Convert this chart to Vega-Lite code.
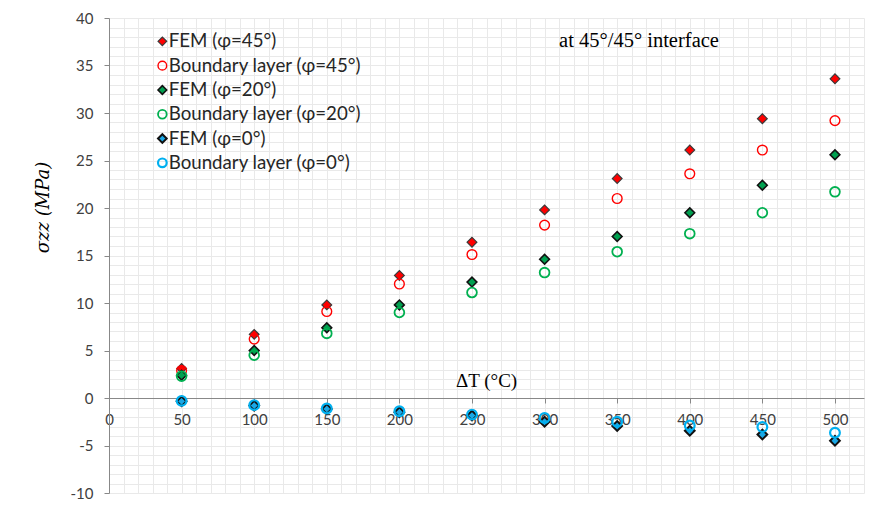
{
  "$schema": "https://vega.github.io/schema/vega-lite/v6.json",
  "width": 755,
  "height": 475,
  "autosize": {"type": "none"},
  "padding": {"left": 109, "top": 18, "right": 5, "bottom": 14},
  "background": "white",
  "config": {
    "view": {"stroke": null},
    "axis": {
      "labelFont": "Lato",
      "labelFontSize": 15,
      "labelColor": "#404040",
      "domainColor": "#888888",
      "tickColor": "#888888",
      "tickSize": 5,
      "gridColor": "#e9e9e9",
      "gridWidth": 1,
      "labelOverlap": false,
      "labelFlush": false,
      "labelBound": false
    },
    "axisY": {"labelPadding": 11},
    "axisX": {"labelPadding": 9},
    "legend": {
      "orient": "none",
      "legendX": 44,
      "legendY": 14,
      "padding": 0,
      "labelFont": "Lato",
      "labelFontSize": 18.7,
      "labelColor": "#262626",
      "labelOffset": -3,
      "labelLimit": 400,
      "rowPadding": 4.3,
      "symbolSize": 75
    }
  },
  "datasets": {
    "stress": [
      {"dT": 50, "szz": 3.1, "series": "FEM (φ=45°)"},
      {"dT": 100, "szz": 6.7, "series": "FEM (φ=45°)"},
      {"dT": 150, "szz": 9.8, "series": "FEM (φ=45°)"},
      {"dT": 200, "szz": 12.9, "series": "FEM (φ=45°)"},
      {"dT": 250, "szz": 16.4, "series": "FEM (φ=45°)"},
      {"dT": 300, "szz": 19.8, "series": "FEM (φ=45°)"},
      {"dT": 350, "szz": 23.1, "series": "FEM (φ=45°)"},
      {"dT": 400, "szz": 26.1, "series": "FEM (φ=45°)"},
      {"dT": 450, "szz": 29.4, "series": "FEM (φ=45°)"},
      {"dT": 500, "szz": 33.6, "series": "FEM (φ=45°)"},
      {"dT": 50, "szz": 2.9, "series": "Boundary layer (φ=45°)"},
      {"dT": 100, "szz": 6.2, "series": "Boundary layer (φ=45°)"},
      {"dT": 150, "szz": 9.1, "series": "Boundary layer (φ=45°)"},
      {"dT": 200, "szz": 12.0, "series": "Boundary layer (φ=45°)"},
      {"dT": 250, "szz": 15.1, "series": "Boundary layer (φ=45°)"},
      {"dT": 300, "szz": 18.2, "series": "Boundary layer (φ=45°)"},
      {"dT": 350, "szz": 21.0, "series": "Boundary layer (φ=45°)"},
      {"dT": 400, "szz": 23.6, "series": "Boundary layer (φ=45°)"},
      {"dT": 450, "szz": 26.1, "series": "Boundary layer (φ=45°)"},
      {"dT": 500, "szz": 29.2, "series": "Boundary layer (φ=45°)"},
      {"dT": 50, "szz": 2.4, "series": "FEM (φ=20°)"},
      {"dT": 100, "szz": 5.0, "series": "FEM (φ=20°)"},
      {"dT": 150, "szz": 7.4, "series": "FEM (φ=20°)"},
      {"dT": 200, "szz": 9.8, "series": "FEM (φ=20°)"},
      {"dT": 250, "szz": 12.2, "series": "FEM (φ=20°)"},
      {"dT": 300, "szz": 14.6, "series": "FEM (φ=20°)"},
      {"dT": 350, "szz": 17.0, "series": "FEM (φ=20°)"},
      {"dT": 400, "szz": 19.5, "series": "FEM (φ=20°)"},
      {"dT": 450, "szz": 22.4, "series": "FEM (φ=20°)"},
      {"dT": 500, "szz": 25.6, "series": "FEM (φ=20°)"},
      {"dT": 50, "szz": 2.3, "series": "Boundary layer (φ=20°)"},
      {"dT": 100, "szz": 4.5, "series": "Boundary layer (φ=20°)"},
      {"dT": 150, "szz": 6.8, "series": "Boundary layer (φ=20°)"},
      {"dT": 200, "szz": 9.0, "series": "Boundary layer (φ=20°)"},
      {"dT": 250, "szz": 11.1, "series": "Boundary layer (φ=20°)"},
      {"dT": 300, "szz": 13.2, "series": "Boundary layer (φ=20°)"},
      {"dT": 350, "szz": 15.4, "series": "Boundary layer (φ=20°)"},
      {"dT": 400, "szz": 17.3, "series": "Boundary layer (φ=20°)"},
      {"dT": 450, "szz": 19.5, "series": "Boundary layer (φ=20°)"},
      {"dT": 500, "szz": 21.7, "series": "Boundary layer (φ=20°)"},
      {"dT": 50, "szz": -0.35, "series": "FEM (φ=0°)"},
      {"dT": 100, "szz": -0.8, "series": "FEM (φ=0°)"},
      {"dT": 150, "szz": -1.15, "series": "FEM (φ=0°)"},
      {"dT": 200, "szz": -1.5, "series": "FEM (φ=0°)"},
      {"dT": 250, "szz": -1.85, "series": "FEM (φ=0°)"},
      {"dT": 300, "szz": -2.5, "series": "FEM (φ=0°)"},
      {"dT": 350, "szz": -2.95, "series": "FEM (φ=0°)"},
      {"dT": 400, "szz": -3.45, "series": "FEM (φ=0°)"},
      {"dT": 450, "szz": -3.85, "series": "FEM (φ=0°)"},
      {"dT": 500, "szz": -4.5, "series": "FEM (φ=0°)"},
      {"dT": 50, "szz": -0.3, "series": "Boundary layer (φ=0°)"},
      {"dT": 100, "szz": -0.75, "series": "Boundary layer (φ=0°)"},
      {"dT": 150, "szz": -1.1, "series": "Boundary layer (φ=0°)"},
      {"dT": 200, "szz": -1.4, "series": "Boundary layer (φ=0°)"},
      {"dT": 250, "szz": -1.75, "series": "Boundary layer (φ=0°)"},
      {"dT": 300, "szz": -2.1, "series": "Boundary layer (φ=0°)"},
      {"dT": 350, "szz": -2.5, "series": "Boundary layer (φ=0°)"},
      {"dT": 400, "szz": -2.9, "series": "Boundary layer (φ=0°)"},
      {"dT": 450, "szz": -3.05, "series": "Boundary layer (φ=0°)"},
      {"dT": 500, "szz": -3.65, "series": "Boundary layer (φ=0°)"}
    ]
  },
  "layer": [
    {
      "data": {"name": "stress"},
      "mark": {"type": "point", "filled": false, "size": 95, "opacity": 1},
      "encoding": {
        "x": {
          "field": "dT",
          "type": "quantitative",
          "scale": {"domain": [0, 520], "nice": false, "zero": false},
          "axis": {
            "title": null,
            "offset": -95,
            "tickCount": 52,
            "labelExpr": "datum.value % 50 === 0 && datum.value <= 500 ? datum.label : ''",
            "tickOpacity": {"condition": {"test": "datum.value % 50 === 0 && datum.value <= 500", "value": 1}, "value": 0}
          }
        },
        "y": {
          "field": "szz",
          "type": "quantitative",
          "scale": {"domain": [-10, 40], "nice": false, "zero": false},
          "axis": {
            "title": "σzz (MPa)",
            "tickCount": 50,
            "labelExpr": "datum.value % 5 === 0 ? replace(datum.label, '−', '-') : ''",
            "tickOpacity": {"condition": {"test": "datum.value % 5 === 0", "value": 1}, "value": 0},
            "labelPadding": 11,
            "titleFont": "DejaVu Serif",
            "titleFontStyle": "italic",
            "titleFontWeight": "normal",
            "titleFontSize": 18,
            "titleColor": "#000000",
            "titleY": 189,
            "titleX": -57
          }
        },
        "shape": {
          "field": "series",
          "type": "nominal",
          "scale": {
            "domain": ["FEM (φ=45°)", "Boundary layer (φ=45°)", "FEM (φ=20°)", "Boundary layer (φ=20°)", "FEM (φ=0°)", "Boundary layer (φ=0°)"],
            "range": ["diamond", "circle", "diamond", "circle", "diamond", "circle"]
          },
          "legend": {"title": null}
        },
        "fill": {
          "field": "series",
          "type": "nominal",
          "scale": {
            "domain": ["FEM (φ=45°)", "Boundary layer (φ=45°)", "FEM (φ=20°)", "Boundary layer (φ=20°)", "FEM (φ=0°)", "Boundary layer (φ=0°)"],
            "range": ["#FF0000", "transparent", "#00A050", "transparent", "#1AA8E6", "transparent"]
          },
          "legend": {"title": null}
        },
        "stroke": {
          "field": "series",
          "type": "nominal",
          "scale": {
            "domain": ["FEM (φ=45°)", "Boundary layer (φ=45°)", "FEM (φ=20°)", "Boundary layer (φ=20°)", "FEM (φ=0°)", "Boundary layer (φ=0°)"],
            "range": ["#3a3a3a", "#FF0000", "#111111", "#00B050", "#111111", "#00B0F0"]
          },
          "legend": {"title": null}
        },
        "strokeWidth": {
          "field": "series",
          "type": "nominal",
          "scale": {
            "domain": ["FEM (φ=45°)", "Boundary layer (φ=45°)", "FEM (φ=20°)", "Boundary layer (φ=20°)", "FEM (φ=0°)", "Boundary layer (φ=0°)"],
            "range": [1.2, 2.2, 1.6, 2.2, 1.3, 2.2]
          },
          "legend": {"title": null}
        }
      }
    },
    {
      "data": {"values": [{"note": "at 45°/45° interface"}]},
      "mark": {"type": "text", "align": "left", "baseline": "middle", "font": "Liberation Serif", "fontSize": 20.5, "color": "#000000"},
      "encoding": {
        "x": {"datum": 310, "type": "quantitative"},
        "y": {"datum": 37.6, "type": "quantitative"},
        "text": {"field": "note"}
      }
    },
    {
      "data": {"values": [{"note": "ΔT (°C)"}]},
      "mark": {"type": "text", "align": "left", "baseline": "middle", "font": "Liberation Serif", "fontSize": 19, "color": "#000000"},
      "encoding": {
        "x": {"datum": 239, "type": "quantitative"},
        "y": {"datum": 1.75, "type": "quantitative"},
        "text": {"field": "note"}
      }
    }
  ]
}
